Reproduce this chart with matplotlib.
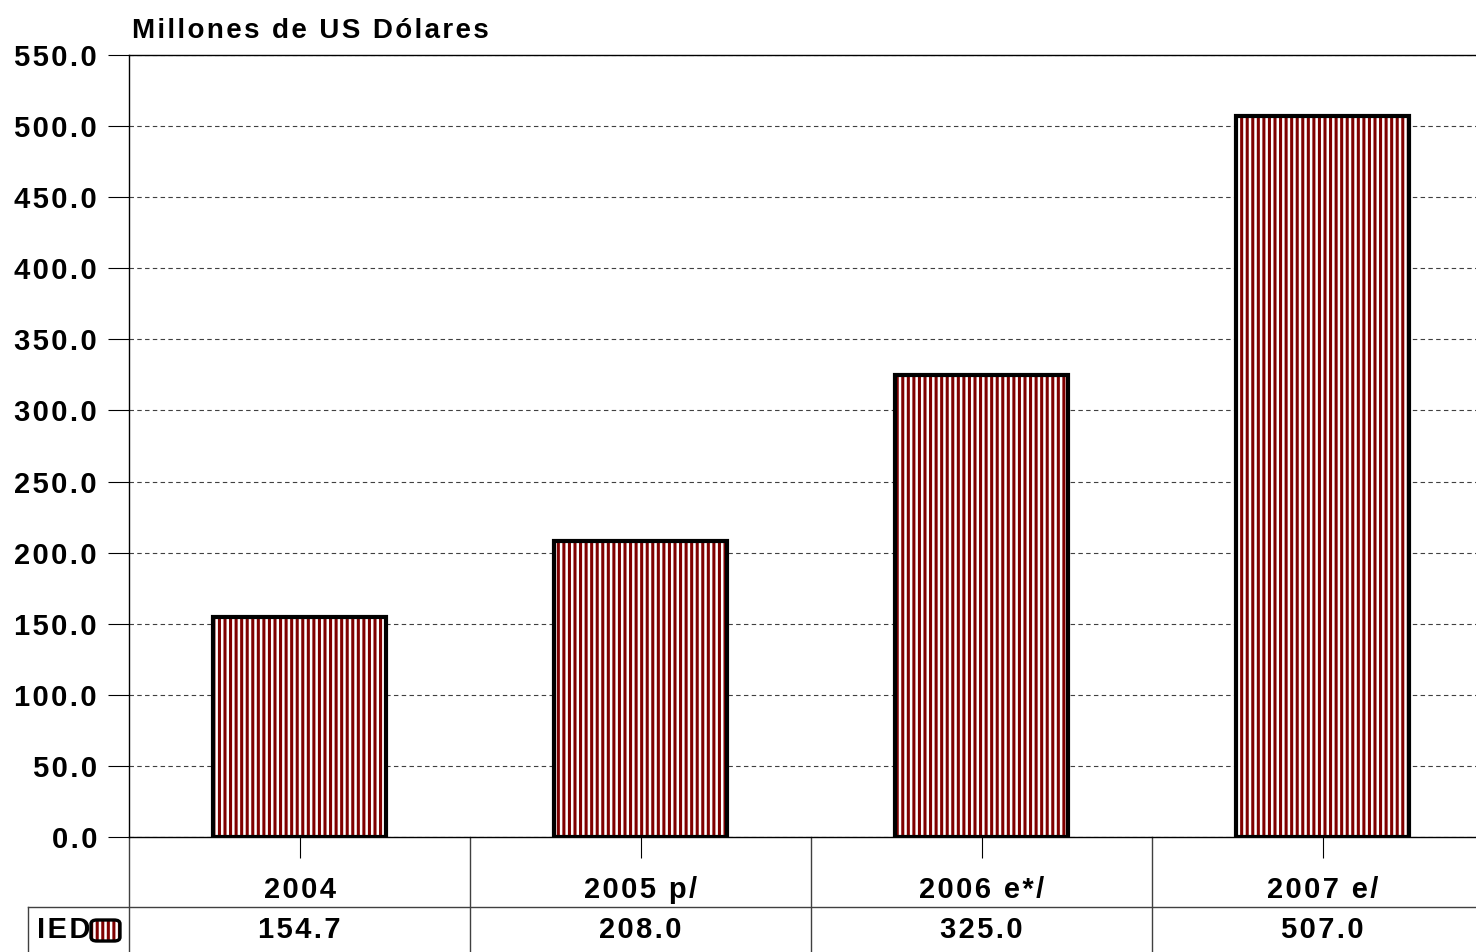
import matplotlib
matplotlib.use("Agg")
import matplotlib.pyplot as plt
from matplotlib.patches import FancyBboxPatch

# Datos
years = ["2004", "2005 p/", "2006 e*/", "2007 e/"]
ied = [154.7, 208.0, 325.0, 507.0]
yticks = [0, 50, 100, 150, 200, 250, 300, 350, 400, 450, 500, 550]

bar_red = "#800000"
plt.rcParams['font.family'] = ['Liberation Sans', 'DejaVu Sans']
plt.rcParams['font.weight'] = 'bold'
plt.rcParams['hatch.linewidth'] = 2.2


def spaced(s, sep="\u200a"):
    # el original tiene letras algo separadas
    return sep.join(s)


W, H = 1476, 952
fig = plt.figure(figsize=(W / 100, H / 100), dpi=100)
ax = fig.add_axes([129 / W, 115 / H, 1364 / W, 782 / H])

x = range(len(years))
# relleno rayado y borde negro por separado
ax.bar(x, ied, width=0.507, color="white", edgecolor=bar_red, hatch="|||",
       linewidth=0, zorder=3)
ax.bar(x, ied, width=0.507, fill=False, edgecolor="black", linewidth=3.0, zorder=4)

ax.set_xlim(-0.5, 3.5)
ax.set_ylim(0, 550)
ax.set_yticks(yticks)
ax.set_yticklabels([spaced(f"{v:.1f}") for v in yticks], fontsize=21, fontweight='bold')
ax.set_xticks(list(x))
ax.set_xticklabels([])
ax.tick_params(axis='y', length=15, width=0.8, pad=8)
ax.tick_params(axis='x', length=15, width=0.8)
ax.yaxis.grid(True, color="#404040", linestyle=(0, (4, 3)), linewidth=0.8)
ax.set_axisbelow(True)
for s in ["left", "top", "bottom"]:
    ax.spines[s].set_linewidth(1.0)
ax.spines["right"].set_visible(False)

tr = ax.get_xaxis_transform()
ax.text(-0.5 + 3 / 341, 799 / 782, spaced("Millones de US Dólares"),
        transform=tr, fontsize=20, fontweight='bold', ha='left', va='baseline')

# tabla de datos
y_row = -70 / 782
y_bot = -115 / 782
x_left = (28 - 129) / 341 - 0.5
for xv in [-0.5, 0.5, 1.5, 2.5]:
    ax.plot([xv, xv], [0, y_bot], color="#404040", lw=1.0, transform=tr, clip_on=False)
ax.plot([x_left, 3.5], [y_row, y_row], color="#404040", lw=1.0, transform=tr, clip_on=False)
ax.plot([x_left, x_left], [y_row, y_bot], color="#404040", lw=1.0, transform=tr, clip_on=False)

for i, (yr, v) in enumerate(zip(years, ied)):
    ax.text(i, -53 / 782, spaced(yr), transform=tr, ha='center', va='center',
            fontsize=21, fontweight='bold')
    ax.text(i, -93 / 782, spaced(f"{v:.1f}"), transform=tr, ha='center', va='center',
            fontsize=21, fontweight='bold')

fig.text(37 / W, 1 - 930 / H, spaced("IED"), ha='left', va='center', fontsize=21,
         fontweight='bold')
box = dict(boxstyle="round,pad=0,rounding_size=0.004", transform=fig.transFigure)
sw = FancyBboxPatch((91 / W, 1 - 941 / H), 29 / W, 21 / H, facecolor="white",
                    edgecolor=bar_red, hatch="|||", linewidth=0, **box)
fig.patches.append(sw)
sw2 = FancyBboxPatch((91 / W, 1 - 941 / H), 29 / W, 21 / H, fill=False,
                     edgecolor="black", linewidth=2.4, **box)
fig.patches.append(sw2)

fig.savefig("out.png", dpi=100)
